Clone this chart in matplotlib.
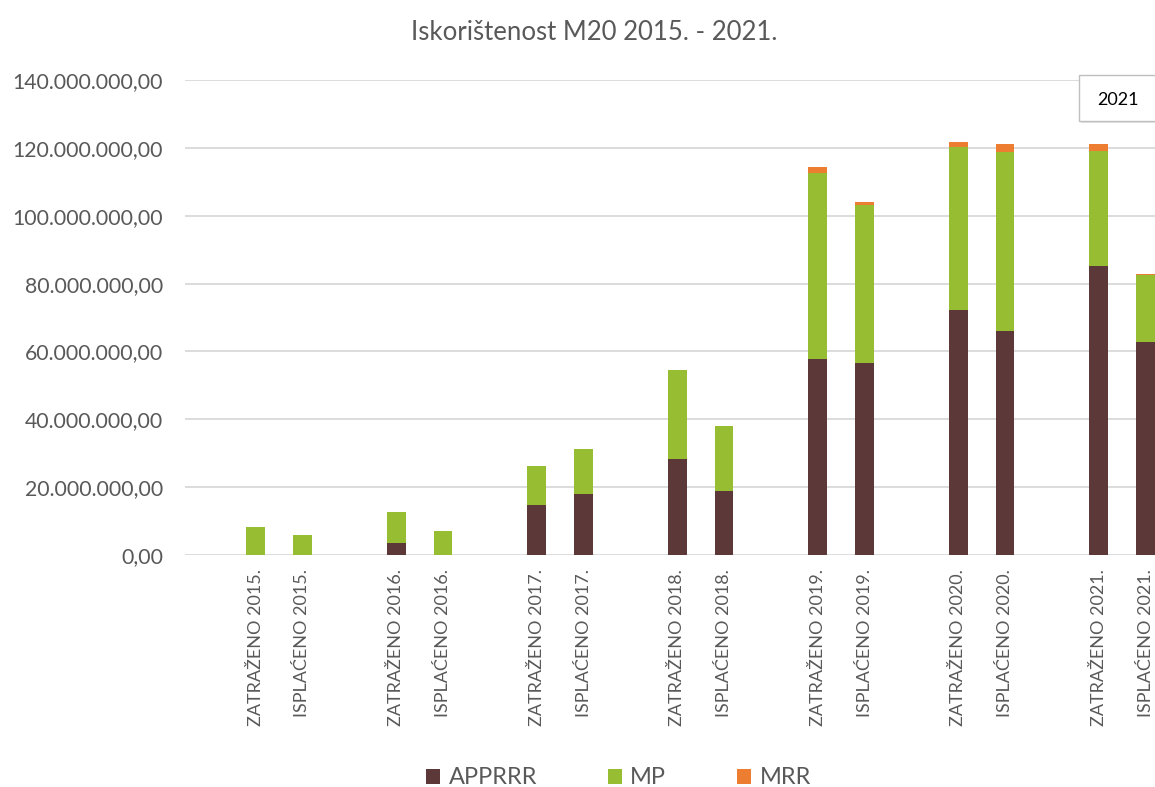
import matplotlib
matplotlib.use("Agg")
import matplotlib.pyplot as plt
from matplotlib.patches import Rectangle
import numpy as np

plt.rcParams['font.family'] = ['Lato', 'DejaVu Sans']

# kategorije (parovi zatraženo / isplaćeno po godinama)
godine = ["2015.", "2016.", "2017.", "2018.", "2019.", "2020.", "2021."]
kategorije = []
for g in godine:
    kategorije.append("ZATRAŽENO " + g)
    kategorije.append("ISPLAĆENO " + g)

# vrijednosti u milijunima
apprrr = [0, 0, 3.6, 0, 14.6, 17.9, 28.3, 18.8, 57.7, 56.6, 72.2, 66.1, 85.2, 62.8]
mp = [8.3, 5.9, 9.0, 6.9, 11.5, 13.3, 26.1, 19.2, 55.0, 46.6, 48.0, 52.7, 33.9, 19.6]
mrr = [0, 0, 0, 0, 0, 0, 0.15, 0, 1.7, 1.0, 1.5, 2.3, 2.2, 0.4]

boje = {"APPRRR": "#5C3838", "MP": "#97BD33", "MRR": "#ED7D31"}
siva = "#595959"

a = np.array(apprrr) * 1e6
m = np.array(mp) * 1e6
r = np.array(mrr) * 1e6

# pozicije: svaka godina ima 3 mjesta (prazno, zatraženo, isplaćeno)
x = np.array([1 + 3 * (k // 2) + (k % 2) for k in range(len(kategorije))])

fig = plt.figure(figsize=(11.55, 7.87), dpi=100)
W, H = 1155, 787
ax = fig.add_axes([185.4 / W, 1 - 554.8 / H, (1169 - 185.4) / W, (554.8 - 80.2) / H])

w = 0.4
ax.bar(x, a, w, color=boje["APPRRR"], label="APPRRR", zorder=3)
ax.bar(x, m, w, bottom=a, color=boje["MP"], label="MP", zorder=3)
ax.bar(x, r, w, bottom=a + m, color=boje["MRR"], label="MRR", zorder=3)

ax.set_xlim(-0.5, 20.5)
ax.set_ylim(0, 140e6)
ax.set_yticks(np.arange(0, 141e6, 20e6))


def fmt(v, pos=None):
    s = f"{v:,.2f}"
    return s.replace(",", "X").replace(".", ",").replace("X", ".")


ax.yaxis.set_major_formatter(plt.FuncFormatter(fmt))
ax.grid(axis="y", color="#D9D9D9", lw=1.3, zorder=0)
ax.set_axisbelow(True)
for s in ax.spines.values():
    s.set_visible(False)

ax.set_xticks(x)
ax.set_xticklabels(kategorije, rotation=90, va="top", ha="center")
ax.tick_params(axis="x", length=0, pad=10.5, labelsize=13, labelcolor=siva)
ax.tick_params(axis="y", length=0, pad=16, labelsize=15.3, labelcolor=siva)

fig.text(594 / W, 1 - 32 / H, "Iskorištenost M20 2015. - 2021.", ha="center", va="center",
         fontsize=18.5, color=siva)

fig.legend(loc="center", bbox_to_anchor=(618.5 / W, 1 - 778 / H), ncol=3, frameon=False,
           fontsize=17, handlelength=0.6, handleheight=0.6, handletextpad=0.35,
           columnspacing=3.0, labelcolor=siva)

# okvir s tekstom 2021
fig.patches.append(Rectangle((1081 / W, 1 - 123 / H), 80 / W, 46 / H, transform=fig.transFigure,
                             fc="#E6E6E6", ec="none", zorder=1))
fig.patches.append(Rectangle((1079 / W, 1 - 121 / H), 80 / W, 46 / H, transform=fig.transFigure,
                             fc="white", ec="#BFBFBF", lw=1, zorder=2))
fig.text(1118 / W, 1 - 100 / H, "2021", ha="center", va="center", fontsize=13, color="black")

fig.savefig("out.png", dpi=100)
